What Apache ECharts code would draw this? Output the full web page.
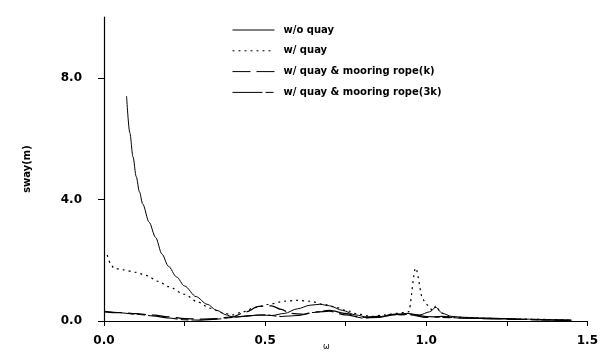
<!DOCTYPE html>
<html><head><meta charset="utf-8">
<script src="https://cdn.jsdelivr.net/npm/echarts@6/dist/echarts.min.js"></script>
<style>html,body{margin:0;padding:0;background:#fff}#c{width:601px;height:354px}</style>
</head><body><div id="c"></div>
<script>
const seriesNames = ['w/o quay', 'w/ quay', 'w/ quay & mooring rope(k)', 'w/ quay & mooring rope(3k)'];
const xTickLabels = [0, 0.5, 1.0, 1.5];
const yTickLabels = [0, 4, 8];

const omegaNoQuay = [0.07,0.08,0.09,0.10,0.11,0.12,0.14,0.16,0.18,0.20,0.225,0.25,0.286,0.32,0.35,0.38,0.40,0.44,0.48,0.52,0.56,0.60,0.64,0.67,0.70,0.74,0.78,0.82,0.86,0.90,0.94,0.98,1.01,1.03,1.05,1.08,1.12,1.18,1.25,1.32,1.40,1.45];
const swayNoQuay  = [7.4,6.2,5.4,4.75,4.25,3.85,3.25,2.75,2.2,1.8,1.45,1.15,0.8,0.55,0.35,0.2,0.13,0.15,0.2,0.18,0.25,0.4,0.52,0.55,0.5,0.35,0.2,0.12,0.15,0.22,0.25,0.2,0.3,0.45,0.25,0.15,0.12,0.1,0.08,0.06,0.04,0.03];

const omegaQuay = [0.01,0.02,0.03,0.06,0.10,0.13,0.17,0.20,0.25,0.29,0.33,0.37,0.40,0.43,0.47,0.51,0.56,0.60,0.64,0.68,0.72,0.75,0.79,0.83,0.87,0.91,0.945,0.967,0.99,1.0,1.02,1.03,1.045,1.07,1.10,1.15,1.22,1.30,1.38,1.45];
const swayQuay  = [2.17,1.9,1.74,1.68,1.6,1.5,1.3,1.13,0.88,0.63,0.42,0.26,0.2,0.3,0.45,0.55,0.65,0.68,0.65,0.55,0.45,0.35,0.22,0.15,0.2,0.25,0.3,1.74,0.7,0.55,0.35,0.5,0.28,0.15,0.12,0.1,0.08,0.06,0.05,0.03];

const omegaRopeK = [0.0,0.05,0.10,0.15,0.20,0.25,0.30,0.35,0.40,0.44,0.48,0.52,0.55,0.58,0.62,0.66,0.70,0.75,0.80,0.85,0.90,0.95,1.0,1.05,1.10,1.20,1.30,1.40,1.45];
const swayRopeK  = [0.32,0.28,0.24,0.2,0.14,0.08,0.06,0.08,0.14,0.3,0.48,0.5,0.38,0.25,0.22,0.3,0.32,0.2,0.12,0.15,0.22,0.2,0.12,0.15,0.1,0.07,0.05,0.03,0.02];

const omegaRope3K = [0.0,0.05,0.10,0.15,0.20,0.25,0.30,0.35,0.40,0.45,0.50,0.55,0.60,0.65,0.70,0.75,0.80,0.85,0.90,0.95,1.0,1.05,1.10,1.20,1.30,1.40,1.45];
const swayRope3K  = [0.3,0.27,0.22,0.17,0.1,0.04,0.03,0.06,0.12,0.18,0.2,0.15,0.18,0.28,0.35,0.25,0.1,0.12,0.2,0.22,0.15,0.12,0.1,0.08,0.05,0.03,0.02];

function pairs(xs, ys){ return xs.map((x,i)=>[x, ys[i]]); }

const styles = [
  {type:'solid', width:1},
  {type:[2,4], width:1.2},
  {type:[18,6], width:1.2},
  {type:[30,3,8,3], width:1.1}
];
const dataSets = [pairs(omegaNoQuay, swayNoQuay), pairs(omegaQuay, swayQuay), pairs(omegaRopeK, swayRopeK), pairs(omegaRope3K, swayRope3K)];

const chart = echarts.init(document.getElementById('c'), null, {renderer:'canvas'});
const font = '"DejaVu Sans", Arial, sans-serif';
chart.setOption({
  animation:false,
  backgroundColor:'#fff',
  grid:{left:104, right:10, top:17, bottom:33},
  legend:{
    orient:'vertical', left:227, top:20, itemWidth:42, itemHeight:12, itemGap:10.8,
    itemStyle:{opacity:0},
    lineStyle:{width:1},
    textStyle:{fontFamily:font, fontWeight:'bold', fontSize:10, color:'#000', padding:[0,0,0,4]},
    data: seriesNames.map(n=>({name:n}))
  },
  xAxis:{
    type:'value', min:0, max:1.5,
    axisLine:{lineStyle:{color:'#000', width:1.2}},
    axisTick:{show:true, inside:false, length:5, lineStyle:{color:'#000'}, customValues:[0,0.25,0.5,0.75,1.0,1.25,1.5]},
    axisLabel:{customValues:xTickLabels, margin:14, fontFamily:font, fontWeight:'bold', fontSize:12, color:'#000',
      formatter:v=>v.toFixed(1)},
    splitLine:{show:false}
  },
  yAxis:{
    type:'value', min:0, max:10,
    name:'sway(m)', nameLocation:'middle', nameGap:72, nameRotate:90,
    nameTextStyle:{fontFamily:font, fontWeight:'bold', fontSize:10, color:'#000'},
    axisLine:{show:true, lineStyle:{color:'#000', width:1.2}},
    axisTick:{show:true, length:6, lineStyle:{color:'#000'}, customValues:yTickLabels},
    axisLabel:{customValues:yTickLabels, margin:22, fontFamily:font, fontWeight:'bold', fontSize:12, color:'#000',
      formatter:v=>v.toFixed(1)},
    splitLine:{show:false}
  },
  graphic:[{type:'text', left:323, top:343, style:{text:'ω', font:'8px '+font, fill:'#000'}}],
  series: seriesNames.map((n,i)=>({
    name:n, type:'line', data:dataSets[i], showSymbol:false, symbol:'none',
    smooth:0.3, smoothMonotone:'x',
    lineStyle:{color:'#000', width:styles[i].width, type:styles[i].type},
    itemStyle:{color:'#000'}
  }))
});
</script></body></html>
